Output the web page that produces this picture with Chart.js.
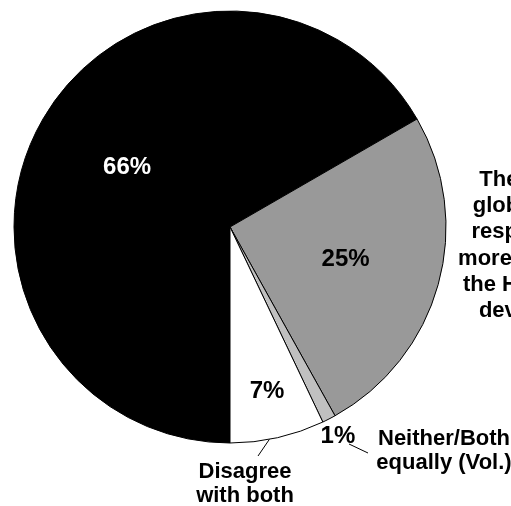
<!DOCTYPE html>
<html>
<head>
<meta charset="utf-8">
<script src="https://cdn.jsdelivr.net/npm/chart.js@4"></script>
<style>
  html, body { margin: 0; padding: 0; background: #ffffff; }
  #wrap { width: 511px; height: 506px; position: relative; }
</style>
</head>
<body>
<div id="wrap"><canvas id="c" width="511" height="506"></canvas></div>
<script>
// ---- data ----
const categories = [
  "The other view",
  "The world's globalization, responses to more damaging the Himalayas, developing,",
  "Neither/Both equally (Vol.)",
  "Disagree with both"
];
const values = [66, 25, 1, 7];
const percentLabels = ["66%", "25%", "1%", "7%"];
const sliceColors = ["#000000", "#999999", "#c0c0c0", "#ffffff"];
const percentColors = ["#ffffff", "#000000", "#000000", "#000000"];
// label text lines
const grayLabelLines = ["The world's", "globalization", "responses to", "more damaging", "the Himalayas,", "developing,"];
const neitherLines = ["Neither/Both", "equally (Vol.)"];
const disagreeLines = ["Disagree", "with both"];

const FONT = '"Liberation Sans", Arial, Helvetica, sans-serif';
const pctRatio = [0.55, 0.555, 1.09, 0.78];

const labelPlugin = {
  id: 'pieLabels',
  afterDatasetsDraw(chart) {
    const ctx = chart.ctx;
    const arcs = chart.getDatasetMeta(0).data;
    ctx.save();
    ctx.textAlign = 'center';
    ctx.textBaseline = 'middle';
    ctx.font = 'bold 24px ' + FONT;
    arcs.forEach((arc, i) => {
      const p = arc.getProps(['x', 'y', 'startAngle', 'endAngle', 'outerRadius'], true);
      const mid = (p.startAngle + p.endAngle) / 2;
      const r = p.outerRadius * pctRatio[i];
      ctx.fillStyle = percentColors[i];
      ctx.fillText(percentLabels[i], p.x + Math.cos(mid) * r, p.y + Math.sin(mid) * r);
    });

    const a = arcs[0].getProps(['x', 'y', 'outerRadius'], true);
    const cx = a.x, cy = a.y, R = a.outerRadius;

    // category labels
    ctx.fillStyle = '#000000';
    ctx.textBaseline = 'alphabetic';
    ctx.font = 'bold 22px ' + FONT;
    grayLabelLines.forEach((t, k) => ctx.fillText(t, cx + 310, cy - 41 + k * 26.2));
    neitherLines.forEach((t, k) => ctx.fillText(t, cx + 214, cy + 218 + k * 24));
    disagreeLines.forEach((t, k) => ctx.fillText(t, cx + 15, cy + 251 + k * 24));

    // leader lines
    ctx.strokeStyle = '#000000';
    ctx.lineWidth = 1;
    const ang = (169.5 - 90) * Math.PI / 180;
    ctx.beginPath();
    ctx.moveTo(cx + Math.cos(ang) * R, cy + Math.sin(ang) * R);
    ctx.lineTo(cx + 28, cy + 229);
    ctx.stroke();
    ctx.beginPath();
    ctx.moveTo(cx + 119, cy + 217);
    ctx.lineTo(cx + 138, cy + 226);
    ctx.stroke();
    ctx.restore();
  }
};

new Chart(document.getElementById('c'), {
  type: 'pie',
  data: {
    labels: categories,
    datasets: [{
      data: values,
      backgroundColor: sliceColors,
      borderColor: '#000000',
      borderWidth: 1,
      hoverOffset: 0,
      borderAlign: 'center'
    }]
  },
  options: {
    responsive: false,
    animation: false,
    rotation: 180,
    radius: 216,
    layout: { padding: { left: 14, top: 11, right: 65, bottom: 63 } },
    plugins: {
      legend: { display: false },
      tooltip: { enabled: false }
    },
    events: []
  },
  plugins: [labelPlugin]
});
</script>
</body>
</html>
